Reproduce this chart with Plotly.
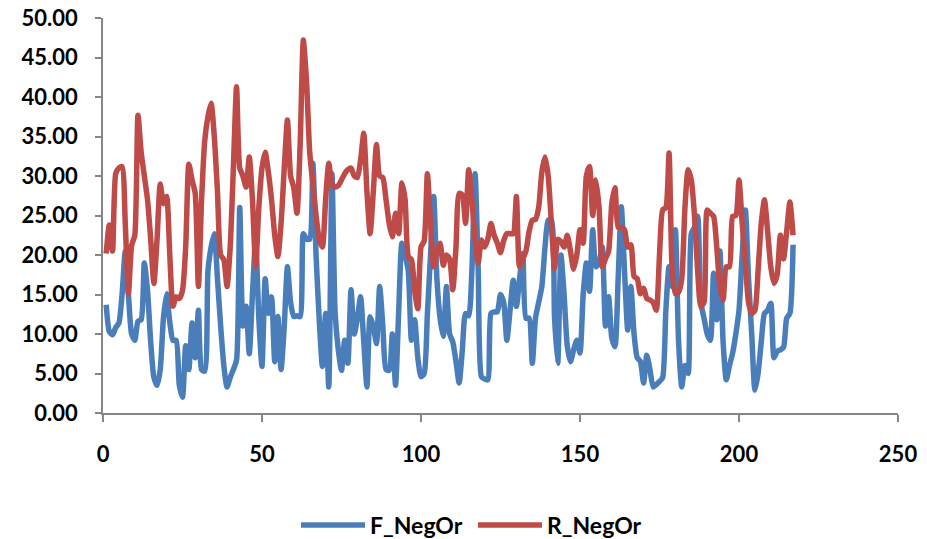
import plotly.graph_objects as go

x_index = list(range(1, 218))

f_negor = [
    13.7, 10.3, 9.9, 10.8, 11.4, 15, 20.5, 15, 10, 9.2,
    11.6, 11.8, 19, 15.5, 9, 4.5, 3.5, 5.5, 12, 15.1,
    11.5, 9.2, 9.2, 3.5, 2.0, 8.5, 5.5, 11.4, 7, 13,
    5.5, 5.3, 18, 21, 22.7, 17, 11, 6, 3.3, 4.5,
    5.5, 6.7, 26, 11, 13.5, 7.5, 15, 22, 12, 5.9,
    17, 12.6, 14.7, 6.5, 12.2, 5.5, 11, 18.5, 14, 12.2,
    12.3, 12.2, 22.7, 22, 22, 31.6, 20, 11.8, 5.9, 12.6,
    3.3, 30.3, 12.6, 8, 5.4, 9.2, 6.3, 15.6, 10, 12,
    14.7, 9, 3.3, 12.2, 11, 8.8, 16, 11, 5.5, 5.4,
    10, 3.5, 13, 21.5, 20, 18, 9.2, 11.8, 7, 4.6,
    5, 12.5, 20, 27.4, 17, 12, 9.7, 16, 10, 9,
    6.5, 3.8, 8, 12.6, 12.3, 18, 30.3, 18, 4.6, 4.3,
    4.2, 12.6, 12.8, 12.8, 15, 14, 9.2, 13, 16.8, 13.5,
    17, 20.2, 12, 12, 6.3, 12, 14, 16, 21, 24.4,
    24.5, 12, 6.3, 20, 15, 8.5, 6.5, 8, 9.2, 7.6,
    15, 19, 15.4, 23.2, 18.5, 19, 21, 11, 14.7, 9.5,
    8.4, 17, 26.1, 18, 10.5, 16, 10, 7, 6.5, 3.8,
    7.3, 5.5, 3.3, 3.6, 4, 4.5, 13, 18.5, 16, 23.2,
    9, 3.3, 6, 5, 22.7, 23.5, 24.9, 14, 12, 10,
    9.2, 17.7, 11.8, 20.5, 9, 4.2, 6, 7.6, 10, 13,
    20, 25.7, 17, 10, 2.9, 5, 9, 12.6, 13, 13.9,
    7, 7.8, 8, 8.3, 12, 12.6, 21.3,
]

r_negor = [
    20.2, 23.8, 20.5, 30.3, 31.0, 31.2, 24, 15.1, 21.2, 22.5,
    37.7, 33, 30, 27, 22, 16.4, 22, 29, 26.5, 27.4,
    20, 13.5, 14.7, 14.5, 15.5, 21, 31.5, 29.5, 27.8, 16,
    27, 34.5, 37.5, 39.2, 35, 28, 20, 19.4, 16, 21,
    31, 41.3, 31, 30, 28.6, 32.4, 27, 18.5, 26, 31,
    33, 30.5, 27, 22.5, 19.8, 24, 31, 37.1, 30, 28.5,
    25.3, 34, 47.2, 42, 33, 29, 25, 22, 21, 27,
    31.6, 29, 28.6, 28.8, 29.5, 30.3, 30.8, 31, 30, 29.8,
    32, 35.4, 28, 22.7, 28, 34, 30, 29.8, 27, 24,
    22.3, 25.3, 22.7, 29.1, 27, 19.8, 19.4, 15.5, 13.2, 21,
    21.8, 30.3, 24, 18.5, 20.5, 21.5, 18.7, 20, 19.5, 15.6,
    21, 27.8, 27.6, 24, 30.8, 27, 22, 19, 21.9, 21,
    22, 24, 22.5, 21.5, 20.3, 21.8, 22.7, 22.7, 22.7, 27.4,
    18.5, 19.5, 20.5, 23, 24.4, 24.5, 26, 30.5, 32.4, 30,
    24, 18.3, 22, 21.7, 21, 22.5, 20.5, 18.2, 20, 23.2,
    21.5, 30, 31.2, 25, 29.5, 26, 18.5, 19.5, 20.5, 26.5,
    28.5, 23.5, 23.5, 23.2, 21, 21.3, 17.3, 17, 15.1, 15.8,
    14.5, 14.3, 14, 13, 20, 25.7, 26, 32.9, 18, 15.1,
    15.3, 17, 26, 30.8, 29.5, 25, 18, 13.5, 14, 25.7,
    25.3, 24.9, 21, 16, 14.3, 18.5, 18.5, 24.9, 25, 29.5,
    24, 19, 14, 12.6, 13, 18, 24, 27, 23, 18.5,
    16.4, 17.5, 22.5, 19.5, 23, 26.7, 22.5,
]

x_ticks = [0, 50, 100, 150, 200, 250]
y_ticks = [0, 5, 10, 15, 20, 25, 30, 35, 40, 45, 50]

FONT = "Lato, 'Open Sans', sans-serif"

fig = go.Figure()
fig.add_trace(go.Scatter(
    x=x_index, y=f_negor, name="F_NegOr", mode="lines",
    line=dict(color="#4A7EBB", width=5.5, shape="spline", smoothing=0.6),
))
fig.add_trace(go.Scatter(
    x=x_index, y=r_negor, name="R_NegOr", mode="lines",
    line=dict(color="#BE4B48", width=5.5, shape="spline", smoothing=0.6),
))

fig.update_layout(
    width=927, height=539,
    margin=dict(l=102.5, r=28.7, t=18.3, b=125.7, autoexpand=False),
    paper_bgcolor="white", plot_bgcolor="white",
    font=dict(family=FONT, size=22, color="black"),
    showlegend=True,
    legend=dict(orientation="h", xref="container", yref="container",
                x=0.3193, xanchor="left", y=0.026, yanchor="middle",
                font=dict(family=FONT, size=23, color="black", weight="bold"),
                itemwidth=64, entrywidth=98, entrywidthmode="pixels"),
    xaxis=dict(range=[0, 250], tickvals=x_ticks, ticktext=[str(v) for v in x_ticks],
               showgrid=False, zeroline=False, showline=True, linecolor="#868686", linewidth=1.5,
               ticks="outside", ticklen=7, tickcolor="#868686", tickwidth=1.5,
               tickfont=dict(family=FONT, size=22, color="black", weight="bold"),
               ticklabelstandoff=14, automargin=False, ticklabeloverflow="allow"),
    yaxis=dict(range=[0, 50], tickvals=y_ticks, ticktext=[f"{v:.2f}" for v in y_ticks],
               showgrid=False, zeroline=False, showline=True, linecolor="#868686", linewidth=1.5,
               ticks="outside", ticklen=6, tickcolor="#868686", tickwidth=1.5,
               tickfont=dict(family=FONT, size=22, color="black", weight="bold"),
               ticklabelstandoff=13, automargin=False, ticklabeloverflow="allow"),
)

# remove the browser's default 8px body margin so the 927x539 figure fills the window
fig.write_html("out.html", config={"displayModeBar": False},
               post_script="document.body.style.margin='0';")
